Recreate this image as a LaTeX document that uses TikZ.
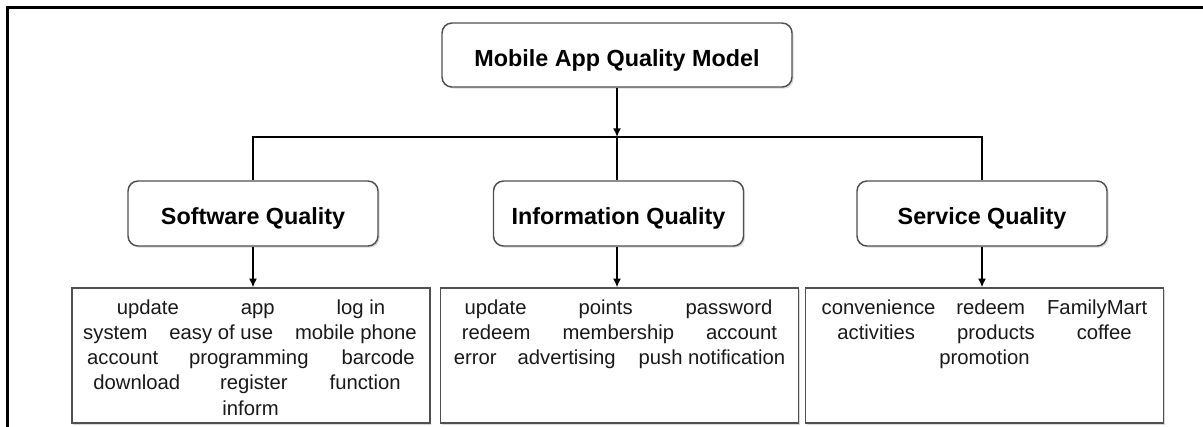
\documentclass[tikz,border=0pt]{standalone}
\usepackage{fontspec}
\setmainfont{Liberation Sans}
\usetikzlibrary{arrows.meta,shadows}
\definecolor{boxgray}{HTML}{505050}
\begin{document}
\begin{tikzpicture}[x=0.75pt,y=-0.75pt,
  rbox/.style={draw=boxgray,line width=1.1pt,rounded corners=7.5pt,fill=white,
    drop shadow={shadow xshift=1.2pt,shadow yshift=-1.2pt,opacity=0.3,fill=gray},
    font=\fontsize{17.5pt}{21pt}\selectfont\bfseries,text height=17pt,text depth=0pt,
    minimum height=48.75pt,minimum width=187.5pt,inner sep=0pt},
  wbox/.style={draw=boxgray,line width=1.1pt,fill=white,
    drop shadow={shadow xshift=0.8pt,shadow yshift=-1.2pt,opacity=0.3,fill=gray},
    minimum width=268.5pt,minimum height=101.25pt,inner sep=0pt},
  wline/.style={anchor=base,inner sep=0pt,font=\fontsize{15.2pt}{19pt}\selectfont,text=black!90},
  conn/.style={draw=black,line width=1.1pt},
  arr/.style={-{Latex[length=6.5pt,width=6pt]}}
]
\useasboundingbox (0,0) rectangle (1203,426);
% frame
\draw[line width=2pt,line cap=rect] (7.3,426) -- (7.3,7.3) -- (1203,7.3);

% nodes
\node[rbox,minimum width=262.5pt,minimum height=48pt] (top) at (617,55) {Mobile App Quality Model};
\node[rbox] (sw) at (253,213.5) {Software Quality};
\node[rbox] (inf) at (618.5,213.5) {Information Quality};
\node[rbox] (sv) at (982,213.5) {Service Quality};

\node[wbox] (b1) at (251,355.5) {};
\node[wbox] (b2) at (619.5,355.5) {};
\node[wbox] (b3) at (984.5,355.5) {};

% connectors
\coordinate (j) at (617,137);
\draw[conn,arr] (top) -- (j);
\draw[conn] (j) -- (j |- inf.north);
\draw[conn] (sw.north) |- (j) -| (sv.north);
\draw[conn,arr] (sw.south) -- (sw.south |- b1.north);
\draw[conn,arr] (j |- inf.south) -- (j |- b2.north);
\draw[conn,arr] (sv.south) -- (sv.south |- b3.north);

% box 1 words
\node[wline] (a1) at (251,314) {update\hspace{46.5pt}app\hspace{46.5pt}log in};
\node[wline] (a2) at (250,339.3) {system\hspace{16.5pt}easy of use\hspace{16.5pt}mobile phone};
\node[wline] (a3) at (251,364.6) {account\hspace{23.25pt}programming\hspace{24.75pt}barcode};
\node[wline] (a4) at (247,389.9) {download\hspace{30pt}register\hspace{31.5pt}function};
\node[wline] (a5) at (250.5,415.2) {inform};

% box 2 words
\node[wline] (c1) at (618.5,314) {update\hspace{39pt}points\hspace{39.75pt}password};
\node[wline] (c2) at (619.5,339.3) {redeem\hspace{24pt}membership\hspace{24pt}account};
\node[wline] (c3) at (619.5,364.6) {error\hspace{15.75pt}advertising\hspace{17.25pt}push notification};

% box 3 words
\node[wline] (d1) at (984.5,314) {convenience\hspace{15.75pt}redeem\hspace{16.5pt}FamilyMart};
\node[wline] (d2) at (984.5,339.3) {activities\hspace{31.5pt}products\hspace{31.5pt}coffee};
\node[wline] (d3) at (984.5,364.6) {promotion};
\end{tikzpicture}
\end{document}
